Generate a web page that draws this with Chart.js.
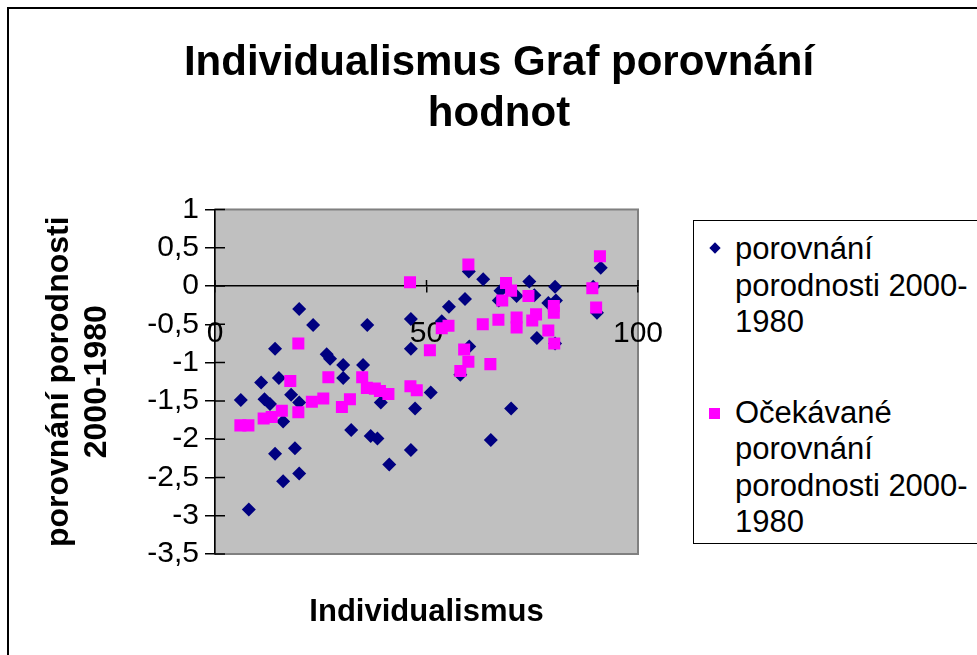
<!DOCTYPE html>
<html>
<head>
<meta charset="utf-8">
<title>Individualismus Graf porovnání hodnot</title>
<script src="https://cdn.jsdelivr.net/npm/chart.js@4.4.1/dist/chart.umd.min.js"></script>
<style>
	body { margin: 0; background: #fff; font-family: 'Liberation Sans', Arial, sans-serif; }
	#frame { position: absolute; left: 7px; top: 7px; width: 1000px; height: 1000px; border-left: 2px solid #000; border-top: 2px solid #000; }
	#chart { position: absolute; left: 0; top: 0; }
	#legend { position: absolute; left: 693px; top: 220px; width: 300px; height: 324px; border: 1px solid #000; box-sizing: border-box; background: #fff; padding-top: 10px; }
	.legend-item { position: relative; padding-left: 41px; width: 250px; font-size: 31px; line-height: 36.5px; color: #000; }
	.legend-item + .legend-item { margin-top: 54px; }
	.legend-mark { position: absolute; }
</style>
</head>
<body>
<div id="frame"></div>
<canvas id="chart" width="977" height="655"></canvas>
<div id="legend"></div>
<script>
// porovnání porodnosti 2000-1980 (skutečné)
const porovnaniX = [6.1, 8.0, 10.9, 11.7, 13.0, 14.2, 14.2, 15.1, 16.1, 16.1, 18.0, 18.9, 19.9, 19.9, 19.9, 23.2, 26.4, 27.2, 30.3, 30.3, 32.2, 35.0, 36.0, 36.8, 38.4, 39.2, 41.2, 46.3, 46.3, 46.3, 47.3, 51.0, 53.6, 55.3, 58.0, 59.1, 60.0, 60.1, 63.4, 65.2, 67.1, 67.5, 70.0, 71.3, 74.3, 75.5, 76.1, 78.8, 80.4, 80.6, 80.4, 89.4, 90.3, 91.2];
const porovnaniY = [-1.49, -2.92, -1.26, -1.48, -1.54, -0.82, -2.19, -1.20, -1.77, -2.55, -1.42, -2.12, -0.30, -1.52, -2.45, -0.51, -0.89, -0.95, -1.03, -1.20, -1.88, -1.03, -0.51, -1.96, -1.99, -1.52, -2.33, -0.43, -0.82, -2.14, -1.60, -1.39, -0.46, -0.27, -1.16, -0.17, 0.19, -0.79, 0.09, -2.01, -0.19, -0.06, -1.60, -0.13, 0.06, -0.12, -0.68, -0.22, -0.01, -0.19, -0.75, -0.01, -0.35, 0.24];

// Očekávané porovnání porodnosti 2000-1980
const ocekavaneX = [6.0, 7.9, 11.5, 13.4, 15.8, 17.8, 19.7, 19.7, 22.9, 25.6, 26.8, 30.0, 31.9, 34.8, 35.9, 37.8, 39.0, 41.0, 46.1, 46.2, 47.7, 50.8, 53.6, 55.2, 58.0, 58.9, 59.9, 59.9, 63.3, 65.1, 67.0, 67.9, 68.8, 70.0, 71.3, 71.3, 74.1, 75.0, 75.9, 78.8, 80.1, 80.1, 80.2, 89.2, 90.1, 91.0];
const ocekavaneY = [-1.82, -1.82, -1.73, -1.71, -1.63, -1.24, -0.75, -1.65, -1.51, -1.47, -1.19, -1.58, -1.48, -1.19, -1.33, -1.34, -1.37, -1.41, 0.05, -1.31, -1.36, -0.84, -0.55, -0.52, -1.11, -0.83, 0.28, -0.99, -0.50, -1.02, -0.44, -0.19, 0.04, -0.06, -0.41, -0.54, -0.13, -0.45, -0.37, -0.58, -0.26, -0.35, -0.75, -0.03, -0.28, 0.39];

const seriesLabels = ['porovnání porodnosti 2000-1980', 'Očekávané porovnání porodnosti 2000-1980'];
const chartTitle = ['Individualismus Graf porovnání', 'hodnot'];
const xTitle = 'Individualismus';
const yTitle = ['porovnání porodnosti', '2000-1980'];
const xTicks = [0, 50, 100];
const yTicks = [1, 0.5, 0, -0.5, -1, -1.5, -2, -2.5, -3, -3.5];

const FONT = "'Liberation Sans', Arial, sans-serif";
const toPoints = (xs, ys) => xs.map((x, i) => ({ x: x, y: ys[i] }));
const czNum = v => String(v).replace('.', ',');

// grey plot area with its frame, plus the inner half of the crossing tick marks
const plotFrame = {
	id: 'plotFrame',
	beforeDraw(chart) {
		const { ctx, chartArea: a } = chart;
		ctx.save();
		ctx.fillStyle = '#c0c0c0';
		ctx.fillRect(a.left, a.top, a.right - a.left, a.bottom - a.top);
		ctx.strokeStyle = '#808080';
		ctx.lineWidth = 2;
		ctx.strokeRect(a.left, a.top, a.right - a.left, a.bottom - a.top);
		ctx.restore();
	},
	beforeDatasetsDraw(chart) {
		const { ctx, scales } = chart;
		const yAxisX = scales.x.getPixelForValue(0);
		const xAxisY = scales.y.getPixelForValue(0);
		ctx.save();
		ctx.strokeStyle = '#000';
		ctx.lineWidth = 1.5;
		ctx.beginPath();
		yTicks.forEach(v => {
			const py = scales.y.getPixelForValue(v);
			ctx.moveTo(yAxisX, py);
			ctx.lineTo(yAxisX + 10, py);
		});
		xTicks.forEach(v => {
			const px = scales.x.getPixelForValue(v);
			ctx.moveTo(px, xAxisY);
			ctx.lineTo(px, xAxisY - 6);
		});
		ctx.stroke();
		ctx.restore();
	},
};

const chart = new Chart(document.getElementById('chart'), {
	type: 'scatter',
	data: {
		datasets: [
			{
				label: seriesLabels[0],
				data: toPoints(porovnaniX, porovnaniY),
				pointStyle: 'rectRot',
				pointRadius: 7,
				pointHoverRadius: 7,
				backgroundColor: '#000080',
				borderColor: '#000080',
				borderWidth: 0,
				order: 1,
			},
			{
				label: seriesLabels[1],
				data: toPoints(ocekavaneX, ocekavaneY),
				pointStyle: 'rect',
				pointRadius: 8.5,
				pointHoverRadius: 8.5,
				backgroundColor: '#ff00ff',
				borderColor: '#ff00ff',
				borderWidth: 0,
				order: 0,
			},
		],
	},
	options: {
		responsive: false,
		animation: false,
		layout: { padding: { left: 21, right: 0, top: 0, bottom: 0 } },
		plugins: {
			legend: { display: false },
			tooltip: { enabled: false },
			title: {
				display: true,
				text: chartTitle,
				color: '#000',
				font: { family: FONT, size: 42, weight: 'bold', lineHeight: 1.22 },
				padding: { top: 38, bottom: 69 },
			},
		},
		scales: {
			x: {
				type: 'linear',
				min: 0,
				max: 100,
				position: { y: 0 },
				afterFit(scale) { scale.height = 0; },
				afterBuildTicks(scale) { scale.ticks = xTicks.map(v => ({ value: v })); },
				ticks: { color: '#000', font: { family: FONT, size: 30 }, padding: 24, maxRotation: 0, autoSkip: false },
				grid: { display: true, drawOnChartArea: false, drawTicks: true, tickLength: 6, color: '#000', lineWidth: 1.5 },
				border: { display: true, color: '#000', width: 1.5 },
			},
			xTitleAxis: {
				type: 'linear',
				axis: 'x',
				min: 0,
				max: 100,
				position: 'bottom',
				afterFit(scale) { scale.height = 101; },
				ticks: { display: false },
				grid: { display: false },
				border: { display: false },
				title: {
					display: true,
					text: xTitle,
					color: '#000',
					font: { family: FONT, size: 31, weight: 'bold', lineHeight: 1.2 },
					padding: { top: 0, bottom: 24 },
				},
			},
			y: {
				type: 'linear',
				min: -3.5,
				max: 1,
				position: 'left',
				afterFit(scale) { scale.width = 194; },
				afterBuildTicks(scale) { scale.ticks = yTicks.map(v => ({ value: v })); },
				ticks: { color: '#000', font: { family: FONT, size: 30 }, padding: 6, autoSkip: false, callback: v => czNum(v) },
				grid: { display: true, drawOnChartArea: false, drawTicks: true, tickLength: 10, color: '#000', lineWidth: 1.5 },
				border: { display: true, color: '#000', width: 1.5 },
				title: {
					display: true,
					text: yTitle,
					color: '#000',
					font: { family: FONT, size: 32, weight: 'bold', lineHeight: 1.16 },
					padding: { top: 20, bottom: 0 },
				},
			},
			yRight: {
				type: 'linear',
				axis: 'y',
				min: -3.5,
				max: 1,
				position: 'right',
				afterFit(scale) { scale.width = 339; },
				ticks: { display: false },
				grid: { display: false },
				border: { display: false },
			},
		},
	},
	plugins: [plotFrame],
});

// legend box, built from the chart's own datasets
const legendEl = document.getElementById('legend');
chart.data.datasets.forEach(ds => {
	const item = document.createElement('div');
	item.className = 'legend-item';
	const mark = document.createElement('span');
	mark.className = 'legend-mark';
	if (ds.pointStyle === 'rectRot') {
		Object.assign(mark.style, { left: '17px', top: '13px', width: '8px', height: '8px', background: ds.backgroundColor, transform: 'rotate(45deg)' });
	} else {
		Object.assign(mark.style, { left: '15px', top: '13px', width: '11px', height: '11px', background: ds.backgroundColor });
	}
	item.appendChild(mark);
	const text = document.createElement('span');
	// allow the line to break after the hyphen, as in the original legend
	ds.label.split('-').forEach((part, i, arr) => {
		text.appendChild(document.createTextNode(part + (i < arr.length - 1 ? '-' : '')));
		if (i < arr.length - 1) text.appendChild(document.createElement('wbr'));
	});
	item.appendChild(text);
	legendEl.appendChild(item);
});
</script>
</body>
</html>
